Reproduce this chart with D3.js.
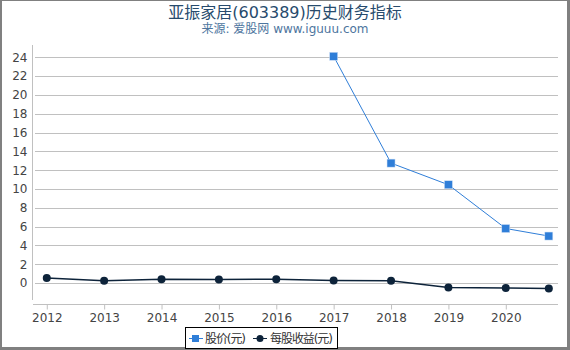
<!DOCTYPE html>
<html>
<head>
<meta charset="utf-8">
<script src="https://cdn.jsdelivr.net/npm/d3@7"></script>
<style>
  body { margin: 0; background: #fff; }
  svg { display: block; font-family: "DejaVu Sans", "Noto Sans CJK SC", sans-serif; }
</style>
</head>
<body>
<div id="chart"></div>
<script>
// chart data
var years = [2012, 2013, 2014, 2015, 2016, 2017, 2018, 2019, 2020, 2020.75];
var price = [null, null, null, null, null, 24.1, 12.75, 10.45, 5.8, 5.0];
var eps = [0.53, 0.25, 0.42, 0.39, 0.41, 0.29, 0.25, -0.46, -0.53, -0.57];
var yTicks = [0, 2, 4, 6, 8, 10, 12, 14, 16, 18, 20, 22, 24];
var xTicks = [2012, 2013, 2014, 2015, 2016, 2017, 2018, 2019, 2020];
var seriesNames = ["股价(元)", "每股收益(元)"];
var colors = ["#2f7ed8", "#0d233a"];

var width = 570, height = 350;
var pLeft = 33, pRight = 558, pTop = 45, pBottom = 304;

var svg = d3.select("#chart").append("svg")
    .attr("width", width)
    .attr("height", height);

// outer frame
svg.append("rect").attr("x", 0).attr("y", 0).attr("width", width).attr("height", height).attr("fill", "#fff");
svg.append("rect").attr("x", 0).attr("y", 0).attr("width", width).attr("height", 1).attr("fill", "#808080");
svg.append("rect").attr("x", 0).attr("y", 0).attr("width", 2).attr("height", height).attr("fill", "#808080");
svg.append("rect").attr("x", width - 3).attr("y", 0).attr("width", 3).attr("height", height).attr("fill", "#808080");
svg.append("rect").attr("x", 0).attr("y", height - 3).attr("width", width).attr("height", 3).attr("fill", "#808080");

// titles
svg.append("text").attr("x", 285).attr("y", 18).attr("text-anchor", "middle")
    .attr("font-size", 16).attr("fill", "#274b6d").text("亚振家居(603389)历史财务指标");
svg.append("text").attr("x", 285).attr("y", 33).attr("text-anchor", "middle")
    .attr("font-size", 12).attr("fill", "#4d759e").text("来源: 爱股网 www.iguuu.com");

var x = d3.scaleLinear().domain([2011.76, 2020.91]).range([pLeft, pRight]);
var y = d3.scaleLinear().domain([-2.22, 25.3]).range([pBottom, pTop]);

// grid
svg.append("g").selectAll("line").data(yTicks).enter().append("line")
    .attr("x1", pLeft + 2).attr("x2", pRight)
    .attr("y1", d => Math.round(y(d)) + 0.5).attr("y2", d => Math.round(y(d)) + 0.5)
    .attr("stroke", "#c0c0c0");

// y axis
var yAxis = svg.append("g").attr("transform", "translate(" + (pLeft - 0.5) + ",0)")
    .call(d3.axisLeft(y).tickValues(yTicks).tickSize(0).tickPadding(5));
yAxis.select(".domain").attr("stroke", "#c0c0c0").attr("d", "M0," + pTop + "V" + (pBottom - 4));
yAxis.selectAll("text").attr("font-size", 12).attr("fill", "#444").attr("font-family", "DejaVu Sans");

// x axis
var xAxis = svg.append("g").attr("transform", "translate(0," + (pBottom + 0.5) + ")")
    .call(d3.axisBottom(x).tickValues(xTicks).tickFormat(d3.format("d")).tickSize(5).tickPadding(4));
xAxis.select(".domain").attr("stroke", "#c0c0c0").attr("d", "M" + pLeft + ",0H" + pRight);
xAxis.selectAll(".tick line").attr("stroke", "#c0c0c0");
xAxis.selectAll("text").attr("font-size", 12).attr("fill", "#444").attr("font-family", "DejaVu Sans");

// lines
var priceData = years.map((d, i) => [d, price[i]]).filter(d => d[1] !== null);
var epsData = years.map((d, i) => [d, eps[i]]);
var line = d3.line().x(d => x(d[0])).y(d => y(d[1]));

svg.append("path").datum(priceData).attr("d", line)
    .attr("fill", "none").attr("stroke", colors[0]).attr("stroke-width", 1);
svg.append("path").datum(epsData).attr("d", line)
    .attr("fill", "none").attr("stroke", colors[1]).attr("stroke-width", 1.5);

svg.append("g").selectAll("rect").data(priceData).enter().append("rect")
    .attr("x", d => x(d[0]) - 4).attr("y", d => y(d[1]) - 4)
    .attr("width", 8).attr("height", 8)
    .attr("fill", colors[0]).attr("stroke", "#cfe0f5").attr("stroke-width", 0.5);
svg.append("g").selectAll("circle").data(epsData).enter().append("circle")
    .attr("cx", d => x(d[0])).attr("cy", d => y(d[1])).attr("r", 4)
    .attr("fill", colors[1]);

// legend
var lg = svg.append("g");
lg.append("rect").attr("x", 185.5).attr("y", 327.5).attr("width", 152).attr("height", 21)
    .attr("fill", "#fff").attr("stroke", "#000");
lg.append("line").attr("x1", 189).attr("x2", 203).attr("y1", 338.5).attr("y2", 338.5).attr("stroke", colors[0]);
lg.append("rect").attr("x", 192).attr("y", 335).attr("width", 7).attr("height", 7).attr("fill", colors[0]);
lg.append("text").attr("x", 205).attr("y", 343).attr("font-size", 12).attr("fill", "#333")
    .attr("textLength", 41).text(seriesNames[0]);
lg.append("line").attr("x1", 253).attr("x2", 267).attr("y1", 338.5).attr("y2", 338.5).attr("stroke", colors[1]);
lg.append("circle").attr("cx", 260).attr("cy", 338.5).attr("r", 3.5).attr("fill", colors[1]);
lg.append("text").attr("x", 270).attr("y", 343).attr("font-size", 12).attr("fill", "#333")
    .attr("textLength", 63).text(seriesNames[1]);
</script>
</body>
</html>
